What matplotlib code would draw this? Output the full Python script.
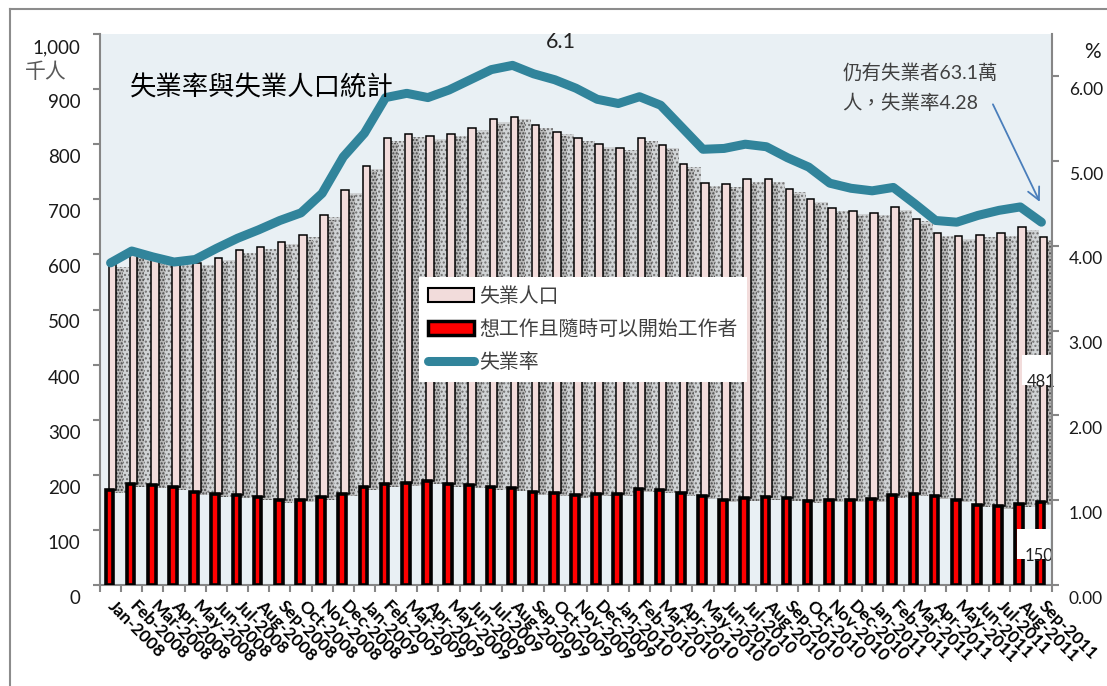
import matplotlib
matplotlib.use('Agg')
import matplotlib.pyplot as plt
import numpy as np
import pandas as pd
from matplotlib.transforms import ScaledTranslation
from matplotlib.lines import Line2D
from matplotlib.patches import Patch, Rectangle

# ---------------- data ----------------
months = pd.date_range('2008-01-01', '2011-09-01', freq='MS').strftime('%b-%Y').tolist()

# 想工作且隨時可以開始工作者 (thousand persons)
available = [172, 183, 181, 178, 168, 165, 163, 159, 154, 155, 160, 166,
             178, 183, 185, 188, 183, 181, 178, 176, 169, 167, 163, 166,
             166, 174, 172, 167, 161, 155, 157, 160, 157, 153, 155, 155,
             156, 163, 166, 161, 155, 146, 143, 147, 150]

# 失業人口 (thousand persons)
unemployed = [411, 417, 411, 407, 417, 429, 445, 455, 469, 481, 512, 551,
              582, 628, 633, 626, 636, 649, 667, 674, 666, 656, 648, 634,
              628, 637, 626, 597, 569, 572, 579, 576, 562, 548, 529, 523,
              520, 523, 499, 478, 478, 490, 496, 503, 481]

# 失業率 (%)
rate = [3.80, 3.94, 3.87, 3.81, 3.84, 3.97, 4.09, 4.19, 4.30, 4.39, 4.62, 5.05,
        5.33, 5.75, 5.80, 5.75, 5.84, 5.96, 6.08, 6.13, 6.03, 5.96, 5.86, 5.73,
        5.68, 5.76, 5.66, 5.40, 5.14, 5.15, 5.20, 5.17, 5.04, 4.93, 4.74, 4.68,
        4.65, 4.69, 4.50, 4.30, 4.28, 4.36, 4.42, 4.46, 4.28]

left_ticks = list(range(0, 1001, 100))
right_ticks = [0, 1, 2, 3, 4, 5, 6]

labels_legend = ['失業人口', '想工作且隨時可以開始工作者', '失業率']

# ---------------- style ----------------
CJK = 'Noto Sans CJK TC'
plt.rcParams['font.family'] = ['Lato', CJK, 'DejaVu Sans']
W, H = 1107, 686
PINK = '#F2DCDB'
TEAL = '#31849B'
GRAY = '#868686'

fig = plt.figure(figsize=(W / 100, H / 100), dpi=100)
ax = fig.add_axes([100 / W, 101 / H, 952 / W, 551 / H])
ax.set_facecolor('#E9F0F4')

x = np.arange(len(months))
red = np.array(available)
pink = np.array(unemployed)
r = np.array(rate)

# shadow of the pink bars (two layers: light wide, darker close to the bar)
ax.bar(x + 0.50, pink, width=0.78, bottom=red - 5, color='#d0d3d5',
       edgecolor='#707070', hatch='....', linewidth=0, zorder=1)
ax.bar(x + 0.36, pink - 4, width=0.42, bottom=red - 5, color='#b8b8b8',
       edgecolor='#444444', hatch='.....', linewidth=0, zorder=1.5)
ax.bar(x + 0.09, pink, width=0.355, bottom=red, color=PINK,
       edgecolor='black', linewidth=1.1, zorder=2)
ax.bar(x - 0.05, red, width=0.36, color='#FF0000',
       edgecolor='black', linewidth=2.6, zorder=3)

ax.set_xlim(-0.5, len(months) - 0.5)
ax.set_ylim(0, 1000)

# data labels for the last month
last = len(months) - 1
mid_p = red[last] + pink[last] / 2
mid_r = red[last] / 2
ax.add_patch(Rectangle((43.07, mid_p - 27), 1.47, 54, facecolor='white',
                       edgecolor='none', zorder=4, clip_on=False))
ax.add_patch(Rectangle((42.84, mid_r - 27), 1.56, 54, facecolor='white',
                       edgecolor='none', zorder=4, clip_on=False))
ax.annotate(f'{pink[last]}', (last, mid_p), xytext=(0, -9), textcoords='offset points',
            ha='center', va='center', fontsize=12, color='#222222', zorder=5,
            annotation_clip=False)
ax.annotate(f'{red[last]}', (last - 0.1, mid_r), xytext=(0, -9), textcoords='offset points',
            ha='center', va='center', fontsize=12, color='#222222', zorder=5,
            annotation_clip=False)

# axes styling
for s in ['top', 'right']:
    ax.spines[s].set_visible(False)
for s in ['left', 'bottom']:
    ax.spines[s].set_color(GRAY)
    ax.spines[s].set_linewidth(1.5)

ax.set_yticks(left_ticks)
ax.set_yticklabels([f'{v:,}' for v in left_ticks])
ax.tick_params(axis='y', direction='out', length=5, width=1.5, color=GRAY,
               pad=9, labelsize=13.5, labelcolor='#1a1a1a')
ax.set_xticks(x)
ax.set_xticklabels(months, rotation=-45, ha='left', va='center',
                   rotation_mode='anchor', fontweight='bold', fontsize=12.5)
ax.tick_params(axis='x', which='major', length=0, pad=13, labelcolor='black')
ax.set_xticks(np.arange(-0.5, len(months), 1), minor=True)
ax.tick_params(axis='x', which='minor', direction='out', length=5, width=1.5, color=GRAY)

# secondary axis: rate
ax2 = ax.twinx()
ax2.plot(x, r, color=TEAL, lw=6.5, solid_joinstyle='round', solid_capstyle='round', zorder=5)
ax2.set_ylim(0, 6.5)
ax2.set_xlim(-0.5, len(months) - 0.5)
for s in ['top', 'left', 'bottom']:
    ax2.spines[s].set_visible(False)
ax2.spines['right'].set_color(GRAY)
ax2.spines['right'].set_linewidth(1.5)
ax2.set_yticks(right_ticks)
ax2.set_yticklabels([f'{v:.2f}' for v in right_ticks])
ax2.tick_params(axis='y', direction='out', length=5, width=1.5, color=GRAY,
                pad=7, labelsize=12.5, labelcolor='#1a1a1a')

# shift y tick labels down like in the original
off = ScaledTranslation(0, -0.12, fig.dpi_scale_trans)
for t in ax.yaxis.get_major_ticks():
    t.label1.set_transform(t.label1.get_transform() + off)
for t in ax2.yaxis.get_major_ticks():
    t.label2.set_transform(t.label2.get_transform() + off)

# peak label
peak = int(np.argmax(r))
ax2.text(peak + 2.3, r[peak] + 0.27, f'{r[peak]:.1f}', ha='center', va='center',
         fontsize=15.5, color='#222222')

# annotation
total_last = (red[last] + pink[last]) / 10
ax2.text(34.6, 6.05, f'仍有失業者{total_last:.1f}萬', ha='left', va='center',
         fontsize=14, color='#404040')
ax2.text(34.6, 5.69, f'人，失業率{r[last]:.2f}', ha='left', va='center',
         fontsize=14, color='#404040')
ax2.annotate('', xy=(43.98, 4.49), xytext=(41.65, 5.70),
             arrowprops=dict(arrowstyle='->', color='#4A7EBB', lw=1.3, mutation_scale=22))

# legend
handles = [Patch(facecolor=PINK, edgecolor='black', lw=1.5),
           Patch(facecolor='#FF0000', edgecolor='black', lw=2.5),
           Line2D([], [], color=TEAL, lw=6.5, solid_capstyle='round')]
leg = ax2.legend(handles, labels_legend, loc='upper left',
                 bbox_to_anchor=(419 / W, 1 - 277 / H), bbox_transform=fig.transFigure,
                 frameon=True, fancybox=False, framealpha=1, edgecolor='none',
                 facecolor='white', prop={'family': CJK, 'size': 14.3},
                 labelcolor='#404040', handlelength=2.3, handleheight=0.7,
                 labelspacing=0.6, borderpad=0.45, borderaxespad=0, handletextpad=0.3)
leg.set_zorder(10)

# texts in the figure
fig.text(130 / W, 1 - 88 / H, '失業率與失業人口統計', family=CJK, fontsize=19,
         ha='left', va='center', color='black')
fig.text(25 / W, 1 - 72 / H, '千人', family=CJK, fontsize=15, ha='left',
         va='center', color='#595959')
fig.text(1092 / W, 1 - 52 / H, '%', fontsize=15, ha='center', va='center', color='#1a1a1a')

# outer frame
fig.add_artist(Line2D([10 / W, 10 / W], [0, 1 - 9 / H], transform=fig.transFigure,
                      color='#8c8c8c', lw=1.5))
fig.add_artist(Line2D([10 / W, 1], [1 - 9 / H, 1 - 9 / H], transform=fig.transFigure,
                      color='#8c8c8c', lw=1.5))

fig.savefig('out.png', dpi=100)
